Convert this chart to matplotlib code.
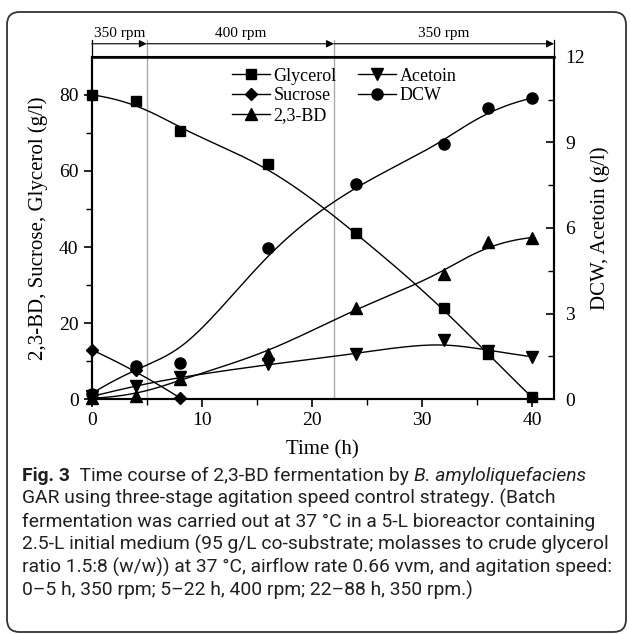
import numpy as np
import matplotlib
matplotlib.use('Agg')
import matplotlib.pyplot as plt
from matplotlib.patches import FancyBboxPatch
from matplotlib.lines import Line2D

# ---------------- data ----------------
time = [0, 4, 8, 16, 24, 32, 36, 40]
glycerol = [80.0, 78.3, 70.6, 61.8, 43.8, 24.0, 11.8, 0.5]
sucrose_time = [0, 4, 8]
sucrose = [13.0, 7.7, 0.4]
bd = [0.3, 0.8, 5.3, 12.0, 24.0, 32.8, 41.2, 42.5]
acetoin = [0.1, 0.48, 0.78, 1.22, 1.59, 2.08, 1.70, 1.49]
dcw = [0.2, 1.16, 1.28, 5.29, 7.54, 8.94, 10.19, 10.55]

stage_bounds = [0, 5, 22, 42]
stage_labels = ['350 rpm', '400 rpm', '350 rpm']

caption_lines = [
    [("Fig. 3", "bold", "normal"), ("  Time course of 2,3-BD fermentation by ", "normal", "normal"),
     ("B. amyloliquefaciens", "normal", "italic")],
    [("GAR using three-stage agitation speed control strategy. (Batch", "normal", "normal")],
    [("fermentation was carried out at 37 \u00b0C in a 5-L bioreactor containing", "normal", "normal")],
    [("2.5-L initial medium (95 g/L co-substrate; molasses to crude glycerol", "normal", "normal")],
    [("ratio 1.5:8 (w/w)) at 37 \u00b0C, airflow rate 0.66 vvm, and agitation speed:", "normal", "normal")],
    [("0\u20135 h, 350 rpm; 5\u201322 h, 400 rpm; 22\u201388 h, 350 rpm.)", "normal", "normal")],
]


def bspline(xs, ys, n=300):
    """Clamped uniform B-spline using the data points as control points (line rendering only)."""
    P = np.column_stack([xs, ys]).astype(float)
    m = len(P)
    k = min(3, m - 1)
    knots = np.concatenate([np.zeros(k), np.linspace(0, 1, m - k + 1), np.ones(k)])
    u = np.linspace(0, 1, n)
    N = np.zeros((len(knots) - 1, n))
    for i in range(len(knots) - 1):
        N[i] = (knots[i] <= u) & (u < knots[i + 1])
    last = np.max(np.where(knots < 1)[0])
    N[last, u >= 1] = 1
    for p in range(1, k + 1):
        Nn = np.zeros((len(knots) - 1 - p, n))
        for i in range(len(knots) - 1 - p):
            d1 = knots[i + p] - knots[i]
            d2 = knots[i + p + 1] - knots[i + 1]
            a = (u - knots[i]) / d1 * N[i] if d1 > 0 else 0
            b = (knots[i + p + 1] - u) / d2 * N[i + 1] if d2 > 0 else 0
            Nn[i] = a + b
        N = Nn
    C = N.T @ P
    return C[:, 0], C[:, 1]


plt.rcParams['font.family'] = ['Liberation Serif', 'DejaVu Serif']
plt.rcParams['mathtext.fontset'] = 'stix'

W, H = 630, 634
fig = plt.figure(figsize=(W / 100, H / 100), dpi=100)

# outer rounded frame
frame = FancyBboxPatch((7 / W, 2 / H), (626 - 7) / W, (H - 12 - 2) / H,
                       boxstyle="round,pad=0,rounding_size=0.02",
                       transform=fig.transFigure, fill=False, edgecolor='#333333',
                       linewidth=1.3, clip_on=False)
fig.patches.append(frame)

ax_l, ax_r, ax_t, ax_b = 91.7, 554, 56.7, 399.3
ax = fig.add_axes([ax_l / W, (H - ax_b) / H, (ax_r - ax_l) / W, (ax_b - ax_t) / H])
ax2 = ax.twinx()

ax.set_xlim(0, 42)
ax.set_ylim(0, 90)
ax2.set_ylim(0, 12)

lw = 1.0
ms = 7
# left axis series
gx, gy = bspline(time, glycerol)
ax.plot(gx, gy, color='black', lw=lw)
ax.plot(time, glycerol, 's', color='black', ms=ms, clip_on=False)
sx, sy = bspline(sucrose_time, sucrose)
ax.plot(sx, sy, color='black', lw=lw)
ax.plot(sucrose_time, sucrose, 'D', color='black', ms=ms - 1, clip_on=False)
bx, by = bspline(time, bd)
ax.plot(bx, by, color='black', lw=lw)
ax.plot(time, bd, '^', color='black', ms=ms + 1, clip_on=False)
# right axis series
axx, ayy = bspline(time, acetoin)
ax2.plot(axx, ayy, color='black', lw=lw)
ax2.plot(time, acetoin, 'v', color='black', ms=ms + 1, clip_on=False)
dx, dy = bspline(time, dcw)
ax2.plot(dx, dy, color='black', lw=lw)
ax2.plot(time, dcw, 'o', color='black', ms=ms + 1, clip_on=False)

# stage boundaries and arrows above the plot
y_arrow = 93.4
for xb in stage_bounds[1:-1]:
    ax.plot([xb, xb], [0, y_arrow + 0.9], color='#aaaaaa', lw=1.0, clip_on=False, zorder=1)
for xb in [stage_bounds[0], stage_bounds[-1]]:
    ax.plot([xb, xb], [90, y_arrow + 0.9], color='black', lw=0.9, clip_on=False)
for i, lab in enumerate(stage_labels):
    x0, x1 = stage_bounds[i], stage_bounds[i + 1]
    ax.annotate('', xy=(x1, y_arrow), xytext=(x0, y_arrow), xycoords='data',
                arrowprops=dict(arrowstyle='-|>', color='black', lw=0.8,
                                mutation_scale=11, shrinkA=0, shrinkB=0),
                annotation_clip=False)
    ax.text((x0 + x1) / 2, y_arrow + 1.0, lab, ha='center', va='bottom', fontsize=11)

# spines & ticks
for a in (ax, ax2):
    for s in a.spines.values():
        s.set_linewidth(1.5)
ax.spines['top'].set_linewidth(1.8)
ax.set_xticks([0, 10, 20, 30, 40])
ax.set_xticks([5, 15, 25, 35], minor=True)
ax.set_yticks([0, 20, 40, 60, 80])
ax.set_yticks([10, 30, 50, 70], minor=True)
ax.tick_params(axis='both', which='major', direction='out', length=6, width=1.2, labelsize=14)
ax.tick_params(axis='both', which='minor', direction='out', length=4, width=1.0)
ax.tick_params(axis='x', top=False, which='both')
ax2.set_yticks([0, 3, 6, 9, 12])
ax2.set_yticks([1.5, 4.5, 7.5, 10.5], minor=True)
ax2.tick_params(axis='y', which='major', direction='in', length=6, width=1.2, labelsize=14, pad=8)
ax2.tick_params(axis='y', which='minor', direction='in', length=4, width=1.0)

ax.set_xlabel('Time (h)', fontsize=15, labelpad=8)
ax.set_ylabel('2,3-BD, Sucrose, Glycerol (g/l)', fontsize=15, labelpad=8)
ax2.set_ylabel('DCW, Acetoin (g/l)', fontsize=15, rotation=90, labelpad=4)

# legend
handles = [
    Line2D([], [], color='black', lw=lw, marker='s', ms=ms),
    Line2D([], [], color='black', lw=lw, marker='D', ms=ms - 1),
    Line2D([], [], color='black', lw=lw, marker='^', ms=ms + 1),
    Line2D([], [], color='black', lw=lw, marker='v', ms=ms + 1),
    Line2D([], [], color='black', lw=lw, marker='o', ms=ms + 1),
]
labels = ['Glycerol', 'Sucrose', '2,3-BD', 'Acetoin', 'DCW']
ax2.legend(handles, labels, ncol=2, frameon=False, loc='upper left',
           bbox_to_anchor=(0.28, 1.0), borderaxespad=0.2, fontsize=13,
           handlelength=2.1, handletextpad=0.2, columnspacing=1.2, labelspacing=0.15)

# caption
fig.canvas.draw()
renderer = fig.canvas.get_renderer()
cap_family = ['Roboto', 'DejaVu Sans']
# fit the widest caption line to ~588 px
widths = []
for parts in caption_lines:
    wsum = 0
    for txt, weight, style in parts:
        probe = fig.text(0, 0, txt, fontsize=10, fontweight=weight, fontstyle=style, family=cap_family)
        wsum += probe.get_window_extent(renderer=renderer).width
        probe.remove()
    widths.append(wsum)
cap_fs = 10 * 588 / max(widths)
y0 = 476
dy_line = 22.8
for li, parts in enumerate(caption_lines):
    xpix = 22
    ypix = y0 + li * dy_line
    for txt, weight, style in parts:
        t = fig.text(xpix / W, 1 - ypix / H, txt, fontsize=cap_fs, fontweight=weight,
                     fontstyle=style, family=cap_family, va='center', ha='left',
                     color='#231f20')
        bb = t.get_window_extent(renderer=renderer)
        xpix += bb.width

fig.savefig('out.png', dpi=100)
